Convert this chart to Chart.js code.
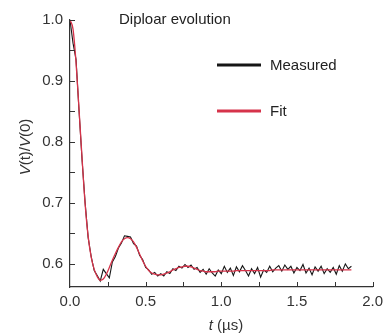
<!DOCTYPE html>
<html>
<head>
<meta charset="utf-8">
<script src="https://cdn.jsdelivr.net/npm/chart.js@4/dist/chart.umd.min.js"></script>
<style>
  html, body { margin: 0; padding: 0; background: #fff; }
  canvas { display: block; }
</style>
</head>
<body>
<canvas id="dipolarchart" width="389" height="333"></canvas>
<script>
// time axis (µs)
const times = [
  0.00,0.02,0.04,0.06,0.08,0.10,0.12,0.14,0.16,0.18,
  0.20,0.22,0.24,0.26,0.28,0.30,0.32,0.34,0.36,0.38,
  0.40,0.42,0.44,0.46,0.48,0.50,0.52,0.54,0.56,0.58,
  0.60,0.62,0.64,0.66,0.68,0.70,0.72,0.74,0.76,0.78,
  0.80,0.82,0.84,0.86,0.88,0.90,0.92,0.94,0.96,0.98,
  1.00,1.02,1.04,1.06,1.08,1.10,1.12,1.14,1.16,1.18,
  1.20,1.22,1.24,1.26,1.28,1.30,1.32,1.34,1.36,1.38,
  1.40,1.42,1.44,1.46,1.48,1.50,1.52,1.54,1.56,1.58,
  1.60,1.62,1.64,1.66,1.68,1.70,1.72,1.74,1.76,1.78,
  1.80,1.82,1.84,1.86
]

// V(t)/V(0), measured
const measured = [
  1.000,0.962,0.935,0.850,0.770,0.700,0.643,0.612,0.589,0.581,
  0.572,0.591,0.584,0.577,0.603,0.612,0.626,0.634,0.646,0.645,
  0.644,0.633,0.629,0.614,0.607,0.594,0.590,0.583,0.586,0.580,
  0.584,0.580,0.587,0.584,0.592,0.589,0.596,0.593,0.599,0.594,
  0.598,0.591,0.594,0.586,0.591,0.583,0.592,0.585,0.580,0.590,
  0.584,0.596,0.586,0.593,0.581,0.595,0.587,0.597,0.589,0.580,
  0.592,0.584,0.594,0.578,0.590,0.586,0.596,0.587,0.593,0.597,
  0.588,0.598,0.591,0.596,0.585,0.594,0.589,0.599,0.585,0.593,
  0.582,0.595,0.588,0.596,0.584,0.592,0.586,0.594,0.583,0.597,
  0.588,0.600,0.592,0.596
]

// V(t)/V(0), fit
const fit = [
  1.000,0.985,0.930,0.852,0.772,0.698,0.645,0.611,0.591,0.579,
  0.573,0.575,0.583,0.594,0.606,0.617,0.627,0.636,0.641,0.643,
  0.641,0.636,0.627,0.616,0.605,0.596,0.589,0.585,0.583,0.582,
  0.582,0.583,0.585,0.587,0.590,0.592,0.594,0.595,0.596,0.596,
  0.595,0.593,0.591,0.589,0.588,0.587,0.587,0.587,0.587,0.588,
  0.588,0.588,0.588,0.588,0.588,0.589,0.589,0.589,0.589,0.589,
  0.589,0.589,0.589,0.589,0.589,0.589,0.589,0.590,0.590,0.590,
  0.590,0.590,0.590,0.590,0.590,0.590,0.590,0.590,0.590,0.590,
  0.590,0.590,0.590,0.590,0.590,0.590,0.590,0.590,0.590,0.590,
  0.590,0.590,0.590,0.590
]

const xTickLabels = [0.0, 0.5, 1.0, 1.5, 2.0]
const yTickLabels = [0.6, 0.7, 0.8, 0.9, 1.0]
const xTickMarks = [0.25, 0.5, 0.75, 1.0, 1.25, 1.5, 1.75, 2.0]
const yTickMarks = [0.6, 0.65, 0.7, 0.75, 0.8, 0.85, 0.9, 0.95, 1.0]

const titletext = 'Diploar evolution'
const seriesnames = ['Measured', 'Fit']
const seriescolors = ['#161616', '#d6334a']

const FONT = '"Liberation Sans", Arial, sans-serif'
const INK = '#333'

// ticks, legend, title, axis titles
const decor = {
  id: 'decor',
  afterDraw(chart) {
    const ctx = chart.ctx, a = chart.chartArea
    const x = chart.scales.x, y = chart.scales.y
    ctx.save()
    ctx.strokeStyle = INK
    ctx.lineWidth = 1
    xTickMarks.forEach(v => {
      const px = Math.round(x.getPixelForValue(v)) + 0.5
      ctx.beginPath(); ctx.moveTo(px, a.bottom); ctx.lineTo(px, a.bottom - 5); ctx.stroke()
    })
    yTickMarks.forEach(v => {
      const py = Math.round(y.getPixelForValue(v)) + 0.5
      ctx.beginPath(); ctx.moveTo(a.left, py); ctx.lineTo(a.left + 5, py); ctx.stroke()
    })

    // title
    ctx.fillStyle = '#222'
    ctx.font = '15px ' + FONT
    ctx.textAlign = 'left'
    ctx.textBaseline = 'alphabetic'
    ctx.fillText(titletext, 119, 24)

    // legend
    const legendrows = [65, 111]
    seriesnames.forEach((name, i) => {
      ctx.strokeStyle = seriescolors[i]
      ctx.lineWidth = 3
      ctx.beginPath(); ctx.moveTo(217, legendrows[i]); ctx.lineTo(261, legendrows[i]); ctx.stroke()
      ctx.fillStyle = '#222'
      ctx.fillText(name, 270, legendrows[i] + 5)
    })

    // x title: t (µs)
    ctx.fillStyle = INK
    const xparts = [['italic 15px ' + FONT, 't'], ['15px ' + FONT, ' (µs)']]
    drawparts(ctx, xparts, 226, 330)

    // y title: V(t)/V(0)
    ctx.translate(25, 147)
    ctx.rotate(-Math.PI / 2)
    const yparts = [['italic 15px ' + FONT, 'V'], ['15px ' + FONT, '(t)/'], ['italic 15px ' + FONT, 'V'], ['15px ' + FONT, '(0)']]
    drawparts(ctx, yparts, 0, 5)
    ctx.restore()
  }
}

function drawparts(ctx, parts, cx, base) {
  let total = 0
  parts.forEach(p => { ctx.font = p[0]; total += ctx.measureText(p[1]).width })
  let px = cx - total / 2
  ctx.textAlign = 'left'
  parts.forEach(p => { ctx.font = p[0]; ctx.fillText(p[1], px, base); px += ctx.measureText(p[1]).width })
}

const pts = arr => times.map((t, i) => ({ x: t, y: arr[i] }))

const data = {
  datasets: [
    {
      label: seriesnames[1],
      data: pts(fit),
      borderColor: seriescolors[1],
      borderWidth: 1.3,
      pointRadius: 0,
      cubicInterpolationMode: 'monotone',
      order: 0
    },
    {
      label: seriesnames[0],
      data: pts(measured),
      borderColor: seriescolors[0],
      borderWidth: 1.1,
      pointRadius: 0,
      tension: 0,
      order: 1
    }
  ]
}

const config = {
  type: 'line',
  data: data,
  options: {
    responsive: false,
    animation: false,
    devicePixelRatio: 1,
    layout: { padding: { left: 0, right: 12, top: 20, bottom: 0 } },
    plugins: { legend: { display: false }, tooltip: { enabled: false } },
    scales: {
      x: {
        type: 'linear',
        min: 0, max: 2.0,
        grid: { display: false, drawTicks: false },
        border: { display: true, color: INK, width: 1.2 },
        afterFit: s => { s.height = 46 },
        afterBuildTicks: s => { s.ticks = xTickLabels.map(v => ({ value: v })) },
        ticks: {
          padding: 6,
          color: INK,
          font: { family: FONT, size: 15 },
          maxRotation: 0,
          callback: v => v.toFixed(1)
        }
      },
      y: {
        min: 0.562, max: 1.0,
        grid: { display: false, drawTicks: false },
        border: { display: true, color: INK, width: 1.2 },
        afterFit: s => { s.width = 70 },
        afterBuildTicks: s => { s.ticks = yTickLabels.map(v => ({ value: v })) },
        ticks: {
          padding: 7,
          color: INK,
          font: { family: FONT, size: 15 },
          callback: v => v.toFixed(1)
        }
      }
    }
  },
  plugins: [decor]
}

new Chart(document.getElementById('dipolarchart').getContext('2d'), config)
</script>
</body>
</html>
